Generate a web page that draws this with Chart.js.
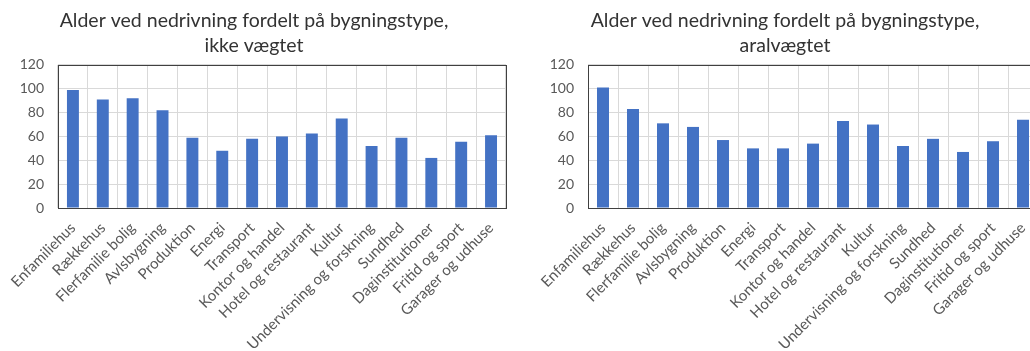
<!DOCTYPE html>
<html>
<head>
<meta charset="utf-8">
<script src="https://cdn.jsdelivr.net/npm/chart.js@4.4.1/dist/chart.umd.min.js"></script>
<style>
  html, body { margin: 0; padding: 0; background: #fff; overflow: hidden; width: 1030px; height: 351px; }
  #wrap { position: relative; width: 1030px; height: 351px; overflow: hidden; }
  canvas { position: absolute; top: 0; }
  #c1 { left: 0; }
  #c2 { left: 520px; }
</style>
</head>
<body>
<div id="wrap">
  <canvas id="c1" width="515" height="351"></canvas>
  <canvas id="c2" width="530" height="351"></canvas>
</div>
<script>
// Building types (x categories)
const categories = [
  "Enfamiliehus", "Rækkehus", "Flerfamilie bolig", "Avlsbygning", "Produktion",
  "Energi", "Transport", "Kontor og handel", "Hotel og restaurant", "Kultur",
  "Undervisning og forskning", "Sundhed", "Daginstitutioner", "Fritid og sport", "Garager og udhuse"
];

// Age at demolition, unweighted
const ikkeVaegtet = [99, 91, 92, 82, 59, 48, 58, 60, 62.5, 75, 52, 59, 42, 55.5, 61];

// Age at demolition, area-weighted
const aralVaegtet = [101, 83, 71, 68, 57, 50, 50, 54, 73, 70, 52, 58, 47, 56, 74];

// Y axis ticks
const yTicks = [0, 20, 40, 60, 80, 100, 120];

const titleLine1 = "Alder ved nedrivning fordelt på bygningstype,";

const FONT = "Lato, 'Liberation Sans', sans-serif";
const TEXT = "#595959";
const GRID = "#d9d9d9";
const BAR = "#4472c4";

// Dark frame around the plot area
const plotFrame = {
  id: "plotFrame",
  afterDatasetsDraw(chart) {
    const a = chart.chartArea;
    const ctx = chart.ctx;
    ctx.save();
    ctx.strokeStyle = "#404040";
    ctx.lineWidth = 1;
    ctx.strokeRect(Math.round(a.left) + 0.5, Math.round(a.top) + 0.5,
                   Math.round(a.right - a.left), Math.round(a.bottom - a.top));
    ctx.restore();
  }
};

function makeChart(id, subtitle, values, axisWidth, pad) {
  return new Chart(document.getElementById(id), {
    type: "bar",
    data: {
      labels: categories,
      datasets: [{
        data: values,
        backgroundColor: BAR,
        borderWidth: 0,
        barPercentage: 0.4,
        categoryPercentage: 1.0
      }]
    },
    options: {
      responsive: false,
      animation: false,
      devicePixelRatio: 1,
      layout: { padding: pad },
      plugins: {
        legend: { display: false },
        tooltip: { enabled: false },
        title: {
          display: true,
          text: [titleLine1, subtitle],
          color: "#333333",
          font: { family: FONT, size: 19.5, weight: "normal", lineHeight: 1.28 },
          padding: { top: 8, bottom: 7 }
        }
      },
      scales: {
        x: {
          grid: { color: GRID, drawTicks: false, offset: true },
          border: { display: false },
          ticks: {
            color: TEXT,
            font: { family: FONT, size: 15 },
            maxRotation: 45,
            minRotation: 45,
            autoSkip: false,
            padding: 11
          },
          afterFit(s) { s.height = 143; }
        },
        y: {
          min: 0,
          max: 120,
          afterBuildTicks(s) { s.ticks = yTicks.map(v => ({ value: v })); },
          grid: { color: GRID, drawTicks: false },
          border: { display: false },
          ticks: {
            color: TEXT,
            font: { family: FONT, size: 14 },
            padding: 14
          },
          afterFit(s) { s.width = axisWidth; }
        }
      }
    },
    plugins: [plotFrame]
  });
}

makeChart("c1", "ikke vægtet", ikkeVaegtet, 58, { left: 0, right: 7, top: 0, bottom: 0 });
makeChart("c2", "aralvægtet", aralVaegtet, 56, { left: 12, right: 12, top: 0, bottom: 0 });
</script>
</body>
</html>
